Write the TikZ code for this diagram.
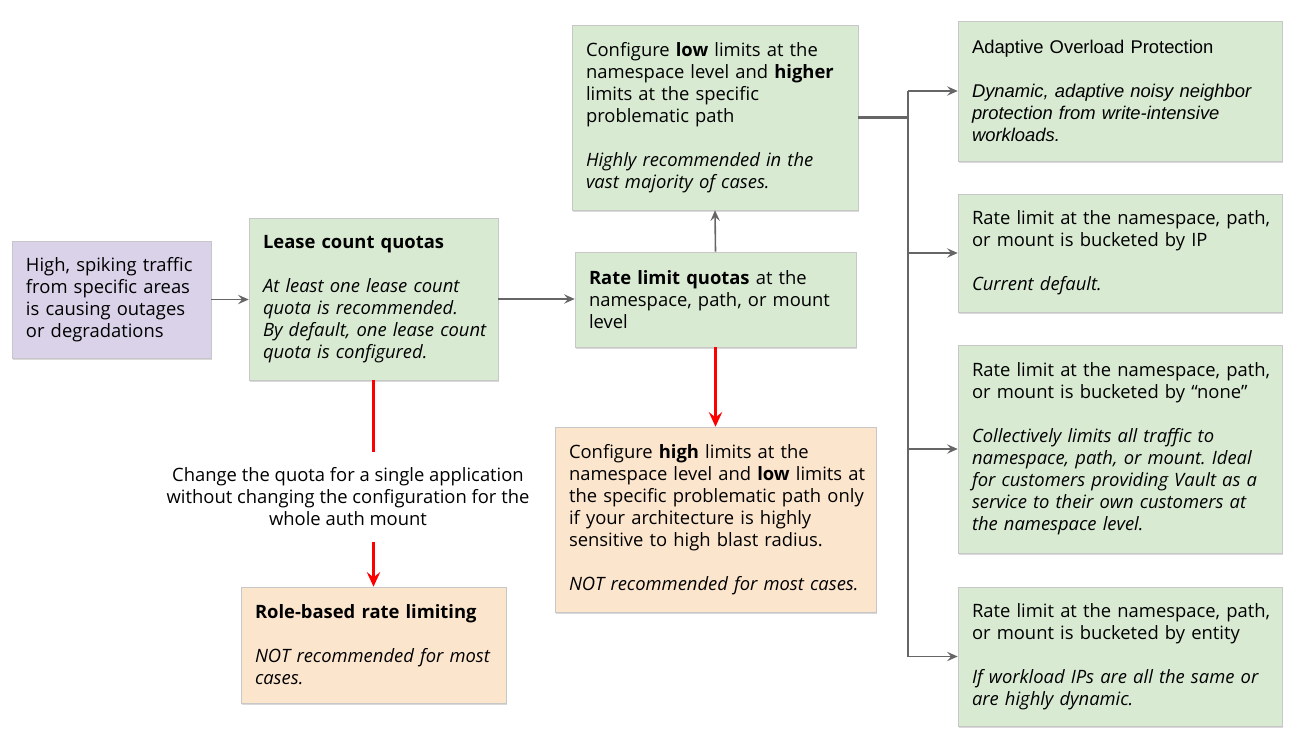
\documentclass[tikz,border=0pt]{standalone}
\usepackage{fontspec}
\setmainfont{Open Sans}
\newfontfamily\arialfont{Liberation Sans}
\usetikzlibrary{arrows.meta,shadows}
\frenchspacing

\definecolor{boxgreen}{HTML}{D9EAD3}
\definecolor{boxpurple}{HTML}{D9D2E9}
\definecolor{boxorange}{HTML}{FCE5CD}
\definecolor{linegray}{HTML}{666666}
\definecolor{alertred}{HTML}{FF0000}

\tikzset{
  card/.style={draw=black!22, line width=0.4pt,
    drop shadow={shadow xshift=0.9pt, shadow yshift=-1.4pt, opacity=0.3},
    inner xsep=5pt, inner ysep=0pt,
    execute at begin node={\raggedright\leftskip=5.5pt},
    font=\fontsize{13.8}{16.5}\selectfont},
  greencard/.style={card, fill=boxgreen},
  purplecard/.style={card, fill=boxpurple},
  orangecard/.style={card, fill=boxorange},
  flow/.style={draw=linegray, line width=1.2pt, -{Stealth[length=8pt,width=7pt,inset=3pt]}},
  bus/.style={draw=linegray, line width=1.7pt},
  alert/.style={draw=alertred, line width=2pt},
  alerthead/.style={-{Stealth[length=11pt,width=10pt,inset=4pt]}}
}
\newcommand{\gapline}{\\[16.5pt]}

\begin{document}
\begin{tikzpicture}[x=0.75pt,y=-0.75pt]
\useasboundingbox (0,0) rectangle (1312,738);

% Starting condition (left)
\node[purplecard, minimum width=149.25pt, minimum height=87.75pt, text width=139.25pt] (traffic) at (111.5,299.5)
  {High, spiking traffic\\from specific areas\\is causing outages\\or degradations};

% Lease count quotas
\node[greencard, minimum width=186.75pt, minimum height=121.5pt, text width=176.75pt] (quotas) at (373.5,299)
  {\textbf{Lease count quotas}\gapline{\itshape At least one lease count\\quota is recommended.\\By default, one lease count\\quota is configured.}};

% Rate limit quotas (center)
\node[greencard, minimum width=210.75pt, minimum height=71.25pt, text width=200.75pt] (ratelimit) at (715.5,299.5)
  {\textbf{Rate limit quotas} at the\\namespace, path, or mount\\level};

% Low/higher limits (top)
\node[greencard, minimum width=214.5pt, minimum height=138.75pt, text width=204.5pt] (config) at (715,117.5)
  {Configure \textbf{low} limits at the\\namespace level and \textbf{higher}\\limits at the specific\\problematic path\gapline{\itshape Highly recommended in the\\vast majority of cases.}};

% High/low limits (bottom)
\node[orangecard, minimum width=240.75pt, minimum height=138.75pt, text width=230.75pt] (highlow) at (715.5,519.5)
  {Configure \textbf{high} limits at the\\namespace level and \textbf{low} limits at\\the specific problematic path only\\if your architecture is highly\\sensitive to high blast radius.\gapline{\itshape NOT recommended for most cases.}};

% Role-based rate limiting
\node[orangecard, minimum width=198.75pt, minimum height=87pt, text width=188.75pt] (rolebased) at (373.5,645)
  {\textbf{Role-based rate limiting}\gapline{\itshape NOT recommended for most\\cases.}};

% Condition label between lease quotas and role-based
\node[font=\fontsize{13.8}{16.5}\selectfont, align=center, inner xsep=0pt, inner ysep=12pt] (why) at (348,497)
  {Change the quota for a single application\\without changing the configuration for the\\whole auth mount};

% Bucketing options (right)
\node[greencard, minimum width=243pt, minimum height=105pt, text width=233pt,
  font=\arialfont\fontsize{13.8}{16.5}\selectfont] (adaptive) at (1120,91)
  {Adaptive Overload Protection\gapline{\itshape Dynamic, adaptive noisy neighbor\\protection from write-intensive\\workloads.}};
\node[greencard, minimum width=243pt, minimum height=88.5pt, text width=233pt] (byip) at (1120,253)
  {Rate limit at the namespace, path,\\or mount is bucketed by IP\gapline{\itshape Current default.}};
\node[greencard, minimum width=243pt, minimum height=156pt, text width=233pt] (bynone) at (1120,449)
  {Rate limit at the namespace, path,\\or mount is bucketed by “none”\gapline{\itshape Collectively limits all traffic to\\namespace, path, or mount. Ideal\\for customers providing Vault as a\\service to their own customers at\\the namespace level.}};
\node[greencard, minimum width=243pt, minimum height=104.25pt, text width=233pt] (byentity) at (1120,656.5)
  {Rate limit at the namespace, path,\\or mount is bucketed by entity\gapline{\itshape If workload IPs are all the same or\\are highly dynamic.}};

% Gray flow arrows
\draw[flow] (traffic.east) -- (traffic.east -| quotas.west);
\draw[flow] (quotas.east) -- (quotas.east -| ratelimit.west);
\draw[flow] (ratelimit.north) -- (config.south);

% Fork to the bucketing options
\draw[bus] (config.east) -- ++(50,0) coordinate (fork);
\draw[bus] (fork |- adaptive.west) -- (fork |- byentity.west);
\foreach \opt in {adaptive,byip,bynone,byentity}
  \draw[flow] (fork |- \opt.west) -- (\opt.west);

% Red arrows
\draw[alert] (quotas.south) -- (quotas.south |- why.north);
\draw[alert, alerthead] (quotas.south |- why.south) -- (rolebased.north);
\draw[alert, alerthead] (ratelimit.south) -- (highlow.north);

\end{tikzpicture}
\end{document}
